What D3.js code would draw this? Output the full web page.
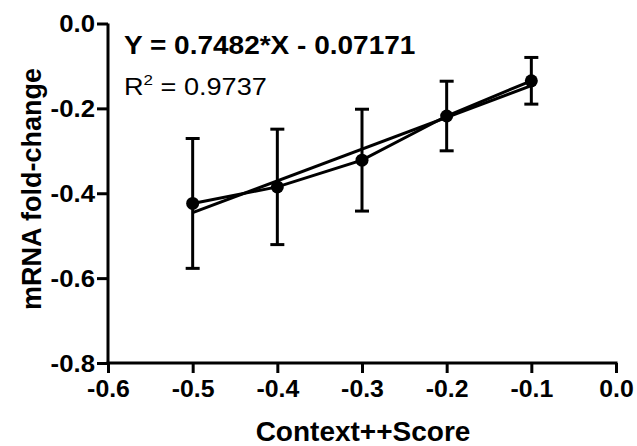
<!DOCTYPE html>
<html><head><meta charset="utf-8">
<script src="https://d3js.org/d3.v7.min.js"></script>
<style>body{margin:0;background:#fff;}svg{display:block;}</style>
</head><body><svg id="c" width="637" height="446" font-family="'Liberation Sans',Arial,sans-serif"></svg>
<script>
const xValues = [-0.5, -0.4, -0.3, -0.2, -0.1];
const yMeans = [-0.424, -0.385, -0.322, -0.218, -0.135];
const yErr = [0.153, 0.136, 0.120, 0.082, 0.055];
const fitSlope = 0.7482, fitIntercept = -0.07171;
const xTicks = [-0.6, -0.5, -0.4, -0.3, -0.2, -0.1, 0.0];
const yTicks = [0.0, -0.2, -0.4, -0.6, -0.8];
const eqText = "Y = 0.7482*X - 0.07171";
const r2Value = "0.9737";

const svg = d3.select("#c");
const x = d3.scaleLinear().domain([-0.6, 0]).range([108, 616]);
const y = d3.scaleLinear().domain([-0.8, 0]).range([363, 23.5]);
const fmt = d => (Math.abs(d) < 1e-9 ? 0 : d).toFixed(1);

function stretch(sel, f) {
  sel.each(function () {
    const w = this.getComputedTextLength();
    d3.select(this).attr("textLength", w * f).attr("lengthAdjust", "spacingAndGlyphs");
  });
}

// Y axis
const ya = svg.append("g").attr("transform", "translate(108,0)")
  .call(d3.axisLeft(y).tickValues(yTicks).tickFormat(fmt).tickSize(11).tickSizeOuter(0).tickPadding(2));
// X axis
const xa = svg.append("g").attr("transform", "translate(0,363)")
  .call(d3.axisBottom(x).tickValues(xTicks).tickFormat(fmt).tickSize(10).tickSizeOuter(0).tickPadding(6));
[ya, xa].forEach(g => {
  g.attr("font-family", "'Liberation Sans',Arial,sans-serif").attr("font-size", 23).attr("font-weight", "bold");
  g.select(".domain").attr("stroke", "#000").attr("stroke-width", 3);
  g.selectAll(".tick line").attr("stroke", "#000").attr("stroke-width", 3);
  g.selectAll(".tick text").attr("fill", "#000");
});
ya.select(".domain").attr("d", `M0,${y(0)}V${y(-0.8)+1.5}`);
xa.select(".domain").attr("d", `M${x(-0.6)-1.5},0H${x(0)+1.5}`);
ya.selectAll(".tick text").attr("dy", "0.36em");
xa.selectAll(".tick text").attr("dy", "0.78em");
stretch(ya.selectAll(".tick text"), 1.12);
stretch(xa.selectAll(".tick text"), 1.08);

// Axis titles
svg.append("text").attr("x", 363).attr("y", 441).attr("text-anchor", "middle")
  .attr("font-size", 28).attr("font-weight", "bold").text("Context++Score");
svg.append("text").attr("transform", `translate(41,189) rotate(-90)`).attr("text-anchor", "middle")
  .attr("font-size", 27).attr("font-weight", "bold").text("mRNA fold-change");

// Error bars
const pts = xValues.map((v, i) => ({x: v, y: yMeans[i], e: yErr[i]}));
const eb = svg.append("g").attr("stroke", "#000").attr("stroke-width", 3);
pts.forEach(p => {
  eb.append("line").attr("x1", x(p.x)).attr("x2", x(p.x)).attr("y1", y(p.y + p.e)).attr("y2", y(p.y - p.e));
  [p.y + p.e, p.y - p.e].forEach(v => eb.append("line").attr("x1", x(p.x) - 7).attr("x2", x(p.x) + 7).attr("y1", y(v)).attr("y2", y(v)));
});

// Regression line
const fx = [xValues[0], xValues[xValues.length - 1]];
svg.append("path").datum(fx.map(v => [v, fitSlope * v + fitIntercept]))
  .attr("fill", "none").attr("stroke", "#000").attr("stroke-width", 3)
  .attr("d", d3.line().x(d => x(d[0])).y(d => y(d[1])));

// Data line
svg.append("path").datum(pts).attr("fill", "none").attr("stroke", "#000").attr("stroke-width", 3)
  .attr("d", d3.line().x(d => x(d.x)).y(d => y(d.y)));

svg.append("g").selectAll("circle").data(pts).join("circle")
  .attr("cx", d => x(d.x)).attr("cy", d => y(d.y)).attr("r", 6.5).attr("fill", "#000");

// Equation text
const eq = svg.append("text").attr("x", 124).attr("y", 54).attr("font-size", 25).attr("font-weight", "bold").text(eqText);
stretch(eq, 1.12);
const r2 = svg.append("text").attr("x", 124).attr("y", 95).attr("font-size", 24);
r2.append("tspan").text("R");
r2.append("tspan").attr("dy", -10).attr("font-size", 15).text("2");
r2.append("tspan").attr("dy", 10).text(" = " + r2Value);
stretch(r2, 1.13);
</script></body></html>
